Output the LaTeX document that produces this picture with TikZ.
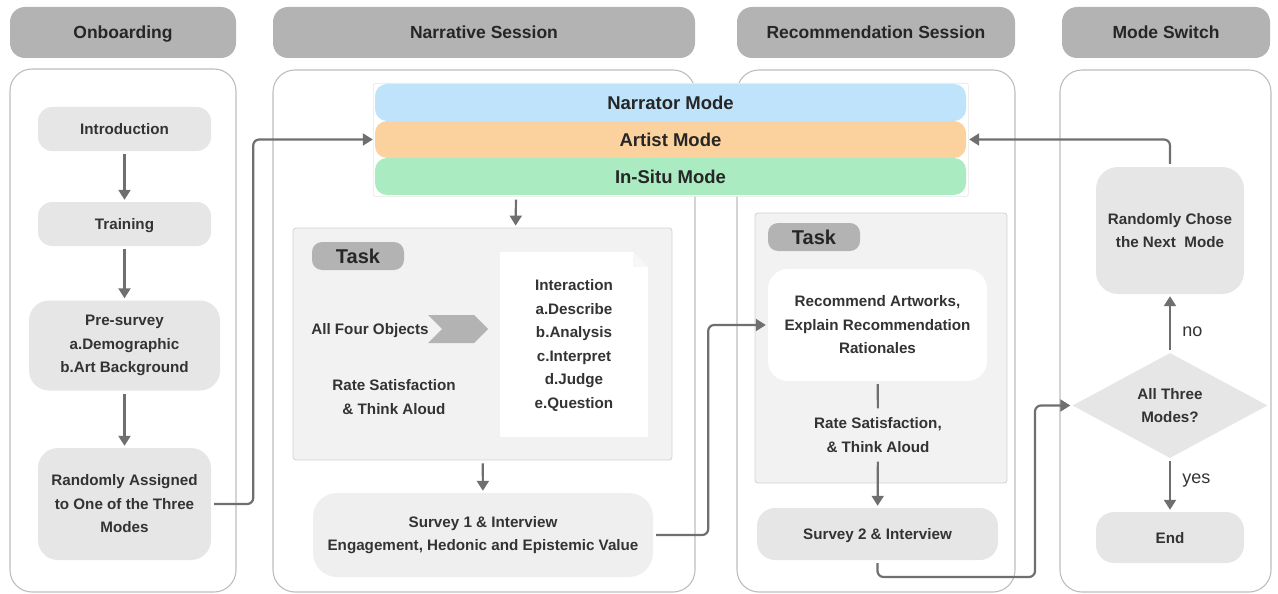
\documentclass[tikz,border=0pt]{standalone}
\usepackage{fontspec}
\setmainfont{Liberation Sans}
\usetikzlibrary{shapes.geometric,shapes.symbols,arrows.meta,calc}

\definecolor{textc}{HTML}{333333}
\definecolor{headc}{HTML}{B3B3B3}
\definecolor{boxc}{HTML}{E6E6E6}
\definecolor{softc}{HTML}{EFEFEF}
\definecolor{taskc}{HTML}{F2F2F2}
\definecolor{taskline}{HTML}{D2D2D2}
\definecolor{panelc}{HTML}{BDBDBD}
\definecolor{arrc}{HTML}{6F6F6F}
\definecolor{narrc}{HTML}{BEE3FB}
\definecolor{artc}{HTML}{FBD29D}
\definecolor{situc}{HTML}{AAEBC1}
\definecolor{foldc}{HTML}{F7F7F7}

\tikzset{
  txt/.style={text=textc, align=center, font=\fontsize{15.2}{23.5}\selectfont\bfseries},
  oneline/.style={text height=11pt, text depth=0pt},
  head/.style={txt, fill=headc, rounded corners=15pt, minimum height=51pt,
    font=\fontsize{17.5}{21}\selectfont\bfseries, text=black!85,
    text height=12.5pt, text depth=0pt},
  panel/.style={draw=panelc, line width=1.1pt, rounded corners=22pt},
  box/.style={txt, fill=boxc, rounded corners=14pt},
  taskbox/.style={fill=taskc, draw=taskline, line width=0.8pt, rounded corners=3pt},
  tasklabel/.style={fill=headc, rounded corners=10pt, text=black!85,
    font=\fontsize{20}{24}\selectfont\bfseries, minimum width=92pt, minimum height=28pt},
  mode/.style={text=black!85, font=\fontsize{18.5}{22}\selectfont\bfseries,
    rounded corners=12pt, minimum width=591pt, minimum height=37pt},
  arr/.style={draw=arrc, line width=2.2pt, -{Triangle[length=10pt,width=12pt]},
    shorten <=3pt, shorten >=2pt, rounded corners=6pt},
  plain/.style={draw=arrc, line width=2.2pt, shorten <=3pt, shorten >=3pt},
  lbl/.style={text=textc, font=\fontsize{18}{22}\selectfont, anchor=west},
}

\begin{document}
\begin{tikzpicture}[x=1pt,y=-1pt]
\useasboundingbox (0,0) rectangle (1278,594);

% column frames
\draw[panel] (10,69) rectangle (236,592);
\draw[panel] (273,70) rectangle (695,592);
\draw[panel] (737,70) rectangle (1015,592);
\draw[panel] (1060,70) rectangle (1271,592);

% column headings
\node[head, minimum width=226pt] (hOn) at (123,32.5) {Onboarding};
\node[head, minimum width=422pt] (hNar) at (484,32.5) {Narrative Session};
\node[head, minimum width=278pt] (hRec) at (876,32.5) {Recommendation Session};
\node[head, minimum width=208pt] (hSw) at (1166,32.5) {Mode Switch};

% onboarding steps
\node[box, oneline, minimum width=173pt, minimum height=44pt] (intro) at (124.5,129) {Introduction};
\node[box, oneline, minimum width=173pt, minimum height=44pt] (train) at (124.5,224) {Training};
\node[box, minimum width=191pt, minimum height=90pt, rounded corners=20pt] (pre) at (124.5,345.5)
  {Pre-survey\\a.Demographic\\b.Art Background};
\node[box, minimum width=173pt, minimum height=112pt, rounded corners=20pt] (assign) at (124.5,504)
  {Randomly Assigned\\to One of the Three\\Modes};
\draw[arr] (intro) -- (train);
\draw[arr] (train) -- (pre);
\draw[arr] (pre) -- (assign);

% the three modes
\node[draw=boxc, line width=0.6pt, fill=white, rounded corners=2pt, anchor=north west,
  minimum width=595pt, minimum height=113pt] (modes) at (373,83) {};
\node[mode, fill=narrc] (narr) at (670.5,102.5) {Narrator Mode};
\node[mode, fill=artc] (art) at (670.5,139.5) {Artist Mode};
\node[mode, fill=situc] (situ) at (670.5,176.5) {In-Situ Mode};

% narrative task
\node[taskbox, minimum width=379pt, minimum height=232pt] (task1) at (482.5,344) {};
\node[tasklabel] (tl1) at (358,256) {Task};
\node[signal, signal from=west, signal to=east, fill=headc, minimum width=60pt,
  minimum height=28pt, inner sep=0pt] (chev) at (458,329) {};
\node[txt, oneline] (objs) at (370,329) {All Four Objects};
\node[txt] (rate1) at (394,397) {Rate Satisfaction\\\& Think Aloud};
\node[fill=white, minimum width=148pt, minimum height=185pt, inner sep=0pt] (doc) at (574,344.5) {};
\fill[taskc] (doc.north east) -- ($(doc.north east)+(-15,0)$) -- ($(doc.north east)+(0,15)$) -- cycle;
\fill[foldc] ($(doc.north east)+(-15,0)$) -- ($(doc.north east)+(0,15)$) -- ($(doc.north east)+(-15,15)$) -- cycle;
\node[txt] (inter) at (574,345.5)
  {Interaction\\a.Describe\\b.Analysis\\c.Interpret\\d.Judge\\e.Question};

\node[box, fill=softc, minimum width=340pt, minimum height=84pt, rounded corners=24pt] (survey1)
  at (483,535) {Survey 1 \& Interview\\Engagement, Hedonic and Epistemic Value};

% recommendation task
\node[taskbox, minimum width=252pt, minimum height=270pt] (task2) at (881,348) {};
\node[tasklabel] (tl2) at (814,237) {Task};
\node[txt, fill=white, rounded corners=20pt, minimum width=219pt, minimum height=112pt] (rec)
  at (877.5,325) {Recommend Artworks,\\Explain Recommendation\\Rationales};
\node[txt, inner sep=6pt] (rate2) at (878,435) {Rate Satisfaction,\\\& Think Aloud};
\node[box, oneline, minimum width=241pt, minimum height=52pt, rounded corners=18pt] (survey2)
  at (877.5,534) {Survey 2 \& Interview};

% mode switch
\node[box, minimum width=148pt, minimum height=127pt, rounded corners=22pt] (choose)
  at (1170,230.5) {Randomly Chose\\the Next\ \ Mode};
\node[diamond, txt, fill=boxc, minimum width=195pt, minimum height=105pt, inner sep=0pt] (dia)
  at (1170,405.5) {All Three\\Modes?};
\node[box, oneline, minimum width=148pt, minimum height=51pt, rounded corners=18pt] (fin)
  at (1170,537.5) {End};

% connectors
\draw[arr] (assign.east) -- ++(42,0) |- (art.west);
\draw[arr] ($(modes.south west)+(143,0)$) -- ($(task1.north west)+(223,0)$);
\draw[arr] (task1) -- (survey1);
\draw[arr] (survey1.east) -- ++(55,0) |- (rec.west);
\draw[plain] (rec) -- (rate2);
\draw[arr] (rate2) -- (survey2);
\coordinate (bend) at (1035,577);
\draw[arr] (survey2.south) |- (bend) |- (dia.west);
\draw[arr] (dia) -- node[lbl, pos=0.36, xshift=8pt] (nolbl) {no} (choose);
\draw[arr] (dia) -- node[lbl, pos=0.42, xshift=8pt] (yeslbl) {yes} (fin);
\draw[arr, shorten >=3pt] (choose.north) |- (art.east);

\end{tikzpicture}
\end{document}
